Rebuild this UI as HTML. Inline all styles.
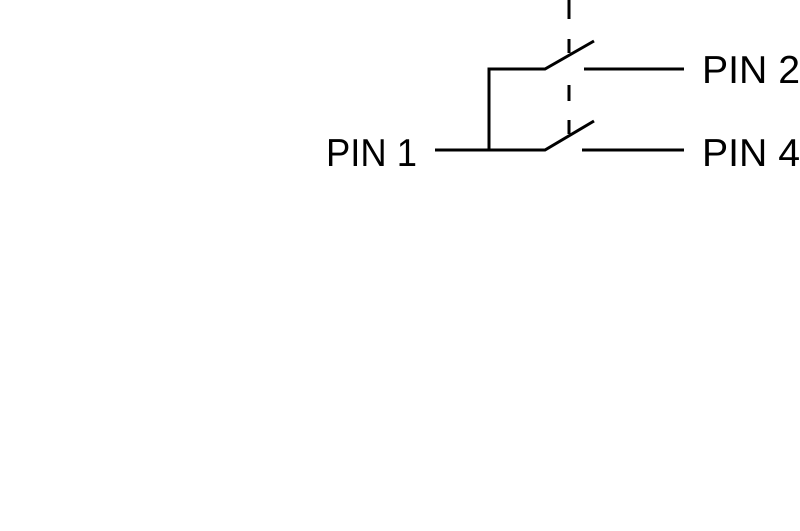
<!DOCTYPE html>
<html><head><style>html,body{margin:0;padding:0;background:#fff;width:800px;height:531px;overflow:hidden}</style></head>
<body>
<svg width="800" height="531" xmlns="http://www.w3.org/2000/svg">
<g stroke="#000" stroke-width="3" fill="none" stroke-linecap="butt">
<line x1="569" y1="0" x2="569" y2="19"/>
<line x1="569" y1="39" x2="569" y2="53"/>
<line x1="569" y1="85" x2="569" y2="101"/>
<line x1="569" y1="120" x2="569" y2="134"/>
<polyline points="489,150 489,69 545,69 594,41"/>
<polyline points="435,150 545,150 594,121"/>
<line x1="584" y1="69" x2="684" y2="69"/>
<line x1="582" y1="150" x2="684" y2="150"/>
</g>
<g font-family="Liberation Sans, sans-serif" font-size="39" fill="#000">
<text x="326" y="166" textLength="91" lengthAdjust="spacingAndGlyphs">PIN 1</text>
<text x="702" y="83" textLength="98" lengthAdjust="spacingAndGlyphs">PIN 2</text>
<text x="702" y="166" textLength="98" lengthAdjust="spacingAndGlyphs">PIN 4</text>
</g>
</svg>
</body></html>
